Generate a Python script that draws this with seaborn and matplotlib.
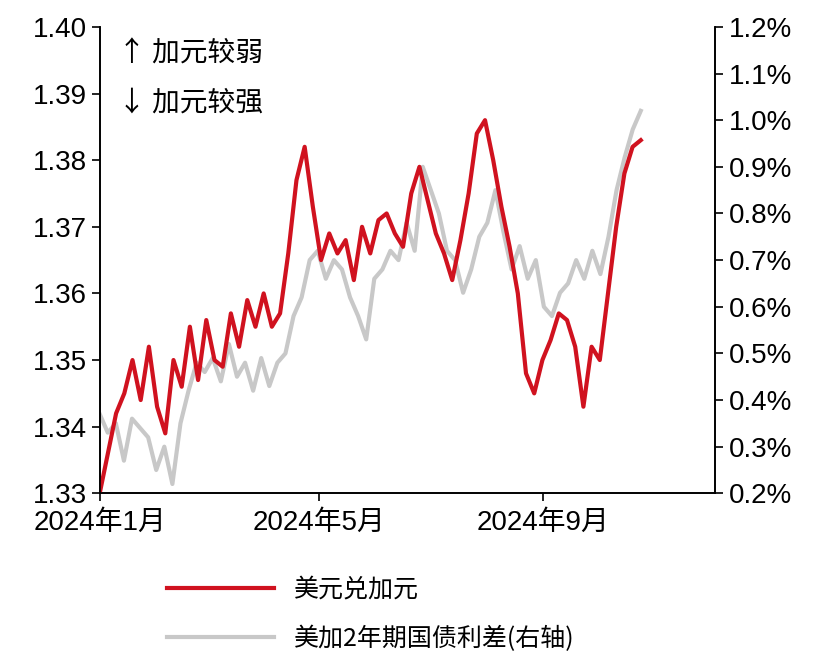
import matplotlib
matplotlib.use("Agg")
import matplotlib.pyplot as plt
import seaborn as sns
import pandas as pd
import numpy as np
from matplotlib.lines import Line2D

plt.rcParams["font.family"] = ["Liberation Sans", "Noto Sans CJK SC"]
plt.rcParams["axes.unicode_minus"] = False

usdcad = [1.330, 1.336, 1.342, 1.345, 1.350, 1.344, 1.352, 1.343, 1.339, 1.350, 1.346, 1.355,
          1.347, 1.356, 1.350, 1.349, 1.357, 1.352, 1.359, 1.355, 1.360, 1.355, 1.357, 1.366,
          1.377, 1.382, 1.373, 1.365, 1.369, 1.366, 1.368, 1.362, 1.370, 1.366, 1.371, 1.372,
          1.369, 1.367, 1.375, 1.379, 1.374, 1.369, 1.366, 1.362, 1.368, 1.375, 1.384, 1.386,
          1.380, 1.373, 1.367, 1.360, 1.348, 1.345, 1.350, 1.353, 1.357, 1.356, 1.352, 1.343,
          1.352, 1.350, 1.360, 1.370, 1.378, 1.382, 1.383]
spread = [0.37, 0.33, 0.35, 0.27, 0.36, 0.34, 0.32, 0.25, 0.30, 0.22, 0.35, 0.42, 0.48, 0.46,
          0.49, 0.44, 0.52, 0.45, 0.48, 0.42, 0.49, 0.43, 0.48, 0.50, 0.58, 0.62, 0.70, 0.72,
          0.66, 0.70, 0.68, 0.62, 0.58, 0.53, 0.66, 0.68, 0.72, 0.70, 0.78, 0.72, 0.90, 0.85,
          0.80, 0.72, 0.70, 0.63, 0.68, 0.75, 0.78, 0.85, 0.76, 0.68, 0.73, 0.66, 0.70, 0.60,
          0.58, 0.63, 0.65, 0.70, 0.66, 0.72, 0.67, 0.75, 0.85, 0.92, 0.98, 1.02]
start, end = "2024-01-01", "2024-10-25"
d1 = pd.DataFrame({"date": pd.date_range(start, end, periods=len(usdcad)), "v": usdcad})
d2 = pd.DataFrame({"date": pd.date_range(start, end, periods=len(spread)), "v": spread})

fig = plt.figure(figsize=(8.24, 6.56), dpi=100)
ax = fig.add_axes([0.121, 0.248, 0.747, 0.711])
ax2 = ax.twinx()
sns.lineplot(data=d2, x="date", y="v", ax=ax2, color="#c8c8c8", lw=3, legend=False)
sns.lineplot(data=d1, x="date", y="v", ax=ax, color="#d0121f", lw=3, legend=False)
ax.set_zorder(2); ax.patch.set_visible(False)

ax.set_ylim(1.33, 1.40); ax2.set_ylim(0.2, 1.2)
ax.set_yticks(np.arange(1.33, 1.401, 0.01))
ax.set_yticklabels([f"{v:.2f}" for v in np.arange(1.33, 1.401, 0.01)])
ax2.set_yticks(np.arange(0.2, 1.201, 0.1))
ax2.set_yticklabels([f"{v:.1f}%" for v in np.arange(0.2, 1.201, 0.1)])
ax.set_xlim(pd.Timestamp("2024-01-01"), pd.Timestamp("2024-12-05"))
ticks = [pd.Timestamp("2024-01-01"), pd.Timestamp("2024-05-01"), pd.Timestamp("2024-09-01")]
ax.set_xticks(ticks); ax.set_xticklabels(["2024年1月", "2024年5月", "2024年9月"])
for a in (ax, ax2):
    a.set_xlabel(""); a.set_ylabel("")
    a.spines["top"].set_visible(False)
    a.tick_params(labelsize=20, width=1.2, length=6)
    for s in a.spines.values():
        s.set_linewidth(1.2)
ax.tick_params(axis="x", pad=6)
ax.text(0.03, 0.975, "↑ 加元较弱", transform=ax.transAxes, fontsize=20, va="top",
        family="Noto Sans CJK SC")
ax.text(0.03, 0.87, "↓ 加元较强", transform=ax.transAxes, fontsize=20, va="top",
        family="Noto Sans CJK SC")
h = [Line2D([], [], color="#d0121f", lw=3), Line2D([], [], color="#c8c8c8", lw=3)]
fig.legend(h, ["美元兑加元", "美加2年期国债利差(右轴)"], loc="upper left",
           bbox_to_anchor=(0.175, 0.155), frameon=False, handlelength=4.3,
           labelspacing=0.9, prop={"family": "Noto Sans CJK SC", "size": 18})
fig.savefig("out.png", dpi=100)
